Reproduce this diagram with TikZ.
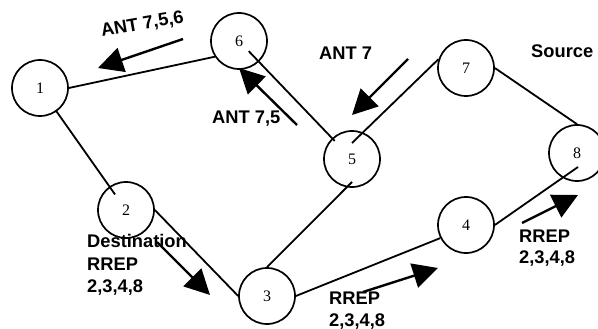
\documentclass[tikz,border=0pt]{standalone}
\usepackage{fontspec}
\setmainfont{Liberation Serif}
\setsansfont{Liberation Sans}
\usetikzlibrary{arrows.meta,calc}
\begin{document}
\begin{tikzpicture}[x=1pt,y=-1pt,
  nd/.style={circle,draw,line width=1.7pt,minimum size=56pt,inner sep=0pt,font=\fontsize{16}{16}\selectfont},
  ed/.style={line width=1.8pt},
  big/.style={line width=2.4pt,-{Triangle[length=25pt,width=25pt]}},
  lbl/.style={font=\sffamily\bfseries\fontsize{18.3}{22}\selectfont,inner sep=0pt,anchor=base west}]
\useasboundingbox (0,0) rectangle (598,329);
% nodes
\node[nd] (n1) at (40,88) {1};
\node[nd] (n6) at (239,41) {6};
\node[nd] (n7) at (466,68) {7};
\node[nd] (n5) at (352,159) {5};
\node[nd] (n8) at (577,153) {8};
\node[nd] (n2) at (126,210) {2};
\node[nd] (n3) at (267,296) {3};
\node[nd] (n4) at (466,225) {4};
% edges
\draw[ed] (n1.east) -- (n6.213);
\draw[ed] ($(n6.center)!14pt!(n5.center)$) -- ($(n5.center)!25pt!(n6.center)$);
\draw[ed] (n7.162) -- ($(n5.center)+(0,-16)$);
\draw[ed] (n7.east) -- (n8.north);
\draw[ed] ($(n1.center)!27pt!(n2.center)$) -- ($(n2.center)!19pt!(n1.center)$);
\draw[ed] (n2.east) -- (n3.west);
\draw[ed] (n3.north) -- ($(n5.center)+(0,23)$);
\draw[ed] (n3.east) -- (n4.207);
\draw[ed] (n4.east) -- ($(n8.center)+(1,14)$);
% message arrows
\coordinate (a1s) at (183,39);  \coordinate (a1e) at (98,68);
\coordinate (a2s) at (297,125); \coordinate (a2e) at (239,68);
\coordinate (a3s) at (408,59);  \coordinate (a3e) at (352,115);
\coordinate (a4s) at (157,242); \coordinate (a4e) at (210,295);
\coordinate (a5s) at (363,292); \coordinate (a5e) at (438,268);
\coordinate (a6s) at (522,223); \coordinate (a6e) at (578,195);
\draw[big] (a1s) -- (a1e);
\draw[big] (a2s) -- (a2e);
\draw[big] (a3s) -- (a3e);
\draw[big] (a4s) -- (a4e);
\draw[big] (a5s) -- (a5e);
\draw[big] (a6s) -- (a6e);
% labels
\node[lbl,rotate=10] (t1) at (102,37) {ANT 7,5,6};
\node[lbl] (t2) at (212,124) {ANT 7,5};
\node[lbl] (t3) at (319,60) {ANT 7};
\node[lbl] (t4) at (531,58) {Source};
\node[lbl] (t5) at (87,247) {Destination};
\node[lbl] (t6) at (87,270) {RREP};
\node[lbl] (t7) at (87,292) {2,3,4,8};
\node[lbl] (t8) at (329,304) {RREP};
\node[lbl] (t9) at (329,326) {2,3,4,8};
\node[lbl] (t10) at (519,242) {RREP};
\node[lbl] (t11) at (519,263) {2,3,4,8};
\end{tikzpicture}
\end{document}
